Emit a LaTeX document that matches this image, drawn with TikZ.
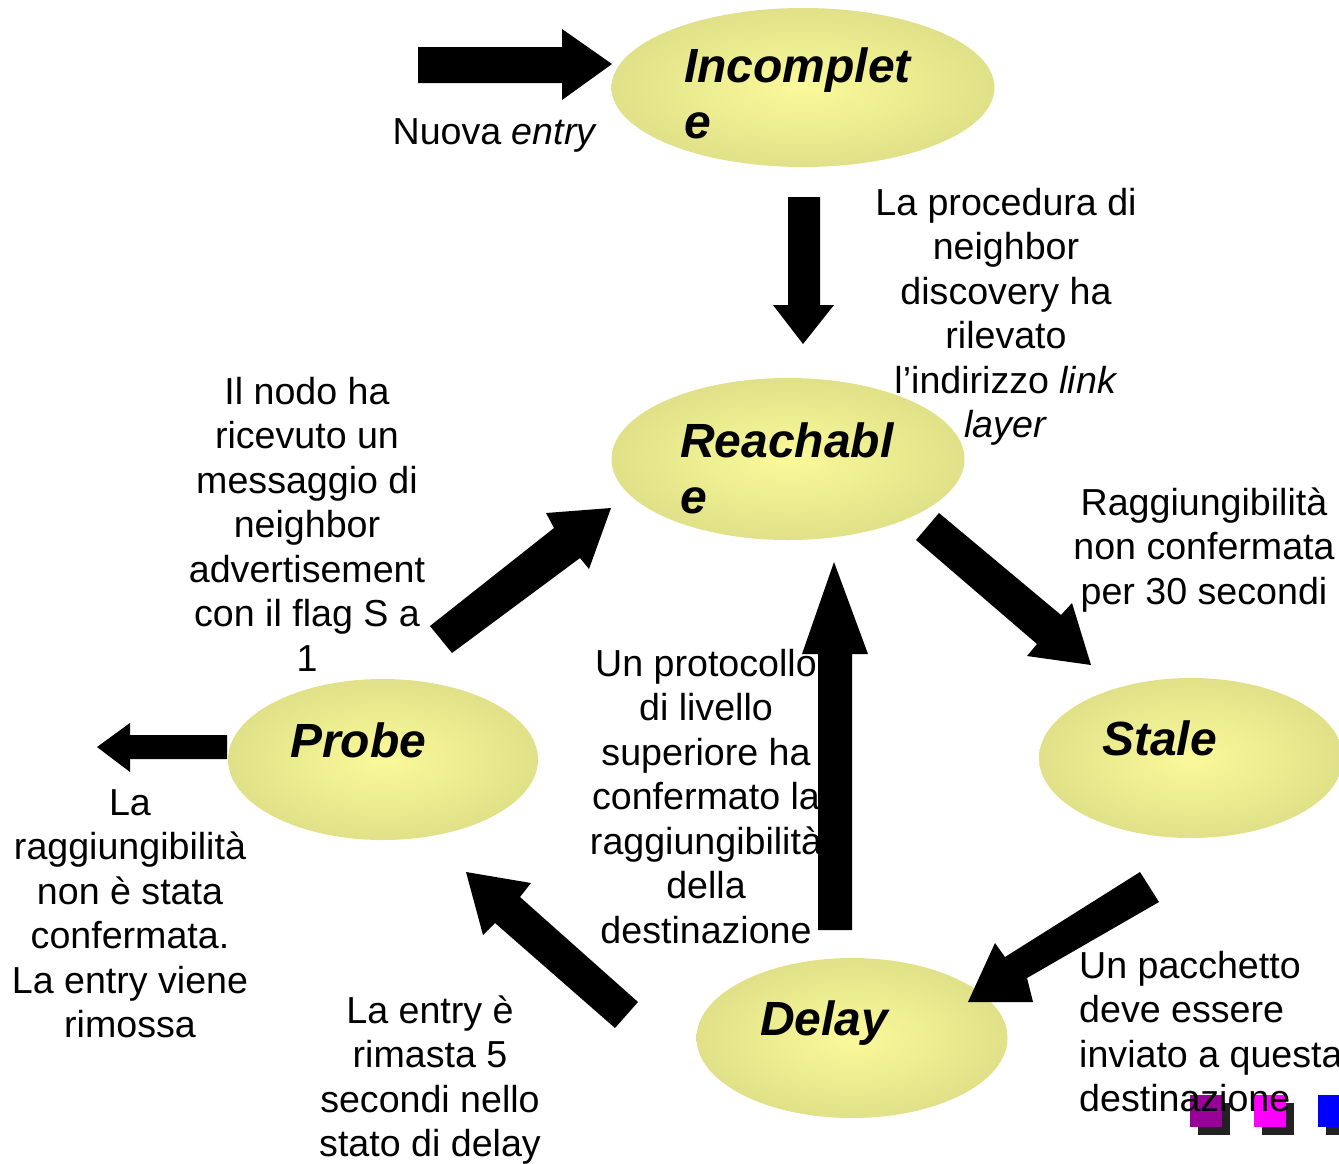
\documentclass[tikz,border=0pt]{standalone}
\usepackage{fontspec}
\setmainfont{Liberation Sans}
\usetikzlibrary{shapes.geometric}
\definecolor{ellin}{RGB}{250,250,155}
\definecolor{ellout}{RGB}{213,213,128}
\definecolor{sqpurple}{RGB}{153,0,153}
\definecolor{sqmagenta}{RGB}{255,0,255}
\definecolor{sqblue}{RGB}{0,0,255}
\definecolor{sqshadow}{RGB}{34,34,34}
\pgfdeclareradialshading{ellshade}{\pgfpoint{0bp}{0bp}}{color(0bp)=(ellin); color(36bp)=(ellout); color(50bp)=(ellout)}
\tikzset{
  state/.style={ellipse, draw=none, shading=ellshade, inner sep=0pt},
  statelabel/.style={anchor=base west, inner sep=0pt, align=left, font=\fontsize{48}{56}\selectfont\bfseries\itshape},
  desc/.style={anchor=base, inner sep=0pt, align=center, font=\fontsize{37.6}{44.5}\selectfont},
  descl/.style={anchor=base west, inner sep=0pt, align=left, font=\fontsize{37.6}{44.5}\selectfont},
  blockarrow/.style={fill=black, draw=none},
  sq/.style={draw=none, minimum size=32pt, inner sep=0pt, anchor=north west}
}
\begin{document}
\begin{tikzpicture}[x=1pt, y=-1pt]
\useasboundingbox (0,0) rectangle (1339,1163);
% states
\node[state, minimum width=383pt, minimum height=159pt] (inc) at (803,87.5) {};
\node[state, minimum width=353pt, minimum height=162pt] (rea) at (788,459) {};
\node[state, minimum width=310pt, minimum height=161pt] (pro) at (383,759.5) {};
\node[state, minimum width=304pt, minimum height=160pt] (sta) at (1191,758) {};
\node[state, minimum width=311pt, minimum height=160pt] (del) at (852,1038) {};
% state labels (base = last line)
\node[statelabel] (incl) at (684,138) {Incomplet\\e};
\node[statelabel] (real) at (680,513) {Reachabl\\e};
\node[statelabel] (prol) at (290,757) {Probe};
\node[statelabel] (stal) at (1102,755) {Stale};
\node[statelabel] (dell) at (760,1035) {Delay};
% descriptions (base = last line)
\node[desc] (t1) at (495,144) {Nuova \textit{entry}};
\node[desc] (t2) at (1006,437.5) {La procedura di\\neighbor\\discovery ha\\rilevato\\l’indirizzo \textit{link}\\\textit{layer}};
\node[desc] (t3) at (307,671) {Il nodo ha\\ricevuto un\\messaggio di\\neighbor\\advertisement\\con il flag S a\\1};
\node[desc] (t4) at (1204,604) {Raggiungibilità\\non confermata\\per 30 secondi};
\node[desc] (t5) at (706,943) {Un protocollo\\di livello\\superiore ha\\confermato la\\raggiungibilità\\della\\destinazione};
\node[desc] (t6) at (130,1037.5) {La\\raggiungibilità\\non è stata\\confermata.\\La entry viene\\rimossa};
\node[desc] (t7) at (430,1156.5) {La entry è\\rimasta 5\\secondi nello\\stato di delay};
% arrows
\fill[blockarrow] (418,47) -- (562,47) -- (562,29) -- (612,64) -- (562,100) -- (562,83) -- (418,83) -- cycle;
\fill[blockarrow] (788,197) -- (820,197) -- (820,305) -- (834,305) -- (803,344) -- (773,305) -- (788,305) -- cycle;
\fill[blockarrow] (430,626) -- (554,528) -- (546,513) -- (611,508) -- (589,569) -- (580,558) -- (452,653) -- cycle;
\fill[blockarrow] (818,930) -- (818,654) -- (802,654) -- (834,562) -- (868,654) -- (852,654) -- (852,930) -- cycle;
\fill[blockarrow] (939,513) -- (1061,615) -- (1072,603) -- (1091,665) -- (1027,656) -- (1037,644) -- (916,540) -- cycle;
\fill[blockarrow] (1140,872) -- (1005,957) -- (995,943) -- (968,1002) -- (1033,1002) -- (1027,978) -- (1159,902) -- cycle;
\fill[blockarrow] (638,1002) -- (520,897) -- (531,883) -- (466,872) -- (483,935) -- (495,923) -- (615,1028) -- cycle;
\fill[blockarrow] (227,735) -- (130,735) -- (130,723) -- (97,747) -- (130,772) -- (130,759) -- (227,759) -- cycle;
% squares
\node[sq, fill=sqshadow] (s1s) at (1198,1103) {};
\node[sq, fill=sqpurple] (s1) at (1190,1095) {};
\node[sq, fill=sqshadow] (s2s) at (1262,1103) {};
\node[sq, fill=sqmagenta] (s2) at (1254,1095) {};
\node[sq, fill=sqshadow] (s3s) at (1326,1103) {};
\node[sq, fill=sqblue] (s3) at (1318,1095) {};
\node[descl] (t8) at (1079,1111.5) {Un pacchetto\\deve essere\\inviato a questa\\destinazione};
\end{tikzpicture}
\end{document}
